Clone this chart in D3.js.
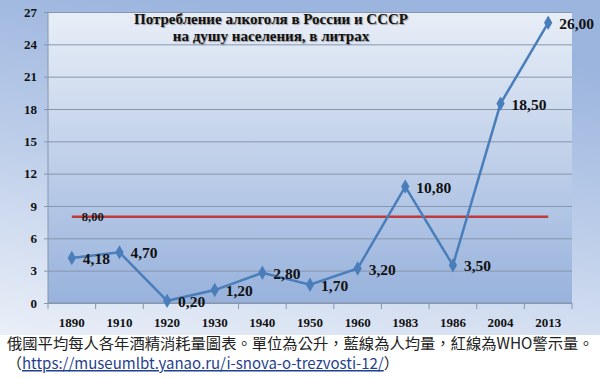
<!DOCTYPE html>
<html>
<head>
<meta charset="utf-8">
<script src="https://cdn.jsdelivr.net/npm/d3@7"></script>
<style>
  body { margin: 0; background: #fff; }
  svg { display: block; }
</style>
</head>
<body>
<svg id="chart" width="600" height="378"></svg>
<script>
// data
var years = ["1890", "1910", "1920", "1930", "1940", "1950", "1960", "1983", "1986", "2004", "2013"];
var litres = [4.18, 4.70, 0.20, 1.20, 2.80, 1.70, 3.20, 10.80, 3.50, 18.50, 26.00];
var whoLimit = 8.00;
var yTicks = [0, 3, 6, 9, 12, 15, 18, 21, 24, 27];
var titleLines = ["Потребление алкоголя в России  и СССР", "на душу населения, в литрах"];

var margin = { top: 12, right: 28, bottom: 75, left: 48 },
    width = 600 - margin.left - margin.right,
    height = 303 - margin.top;

var serif = "Liberation Serif, Times New Roman, serif";
var svg = d3.select("#chart");
var defs = svg.append("defs");

// outer backdrop gradient
var bg = defs.append("linearGradient").attr("id", "bg")
    .attr("x1", "0.3").attr("y1", "0").attr("x2", "0").attr("y2", "1");
bg.append("stop").attr("offset", "0%").attr("stop-color", "#9cb5de");
bg.append("stop").attr("offset", "45%").attr("stop-color", "#bccde9");
bg.append("stop").attr("offset", "100%").attr("stop-color", "#eaeff8");

// plot area gradient
var pg = defs.append("linearGradient").attr("id", "plotbg")
    .attr("x1", "0").attr("y1", "0").attr("x2", "0").attr("y2", "1");
pg.append("stop").attr("offset", "0%").attr("stop-color", "#e8eef7");
pg.append("stop").attr("offset", "100%").attr("stop-color", "#98b2dc");

svg.append("rect").attr("width", 600).attr("height", 335).attr("fill", "url(#bg)");

var g = svg.append("g")
    .attr("transform", "translate(" + margin.left + "," + margin.top + ")");

g.append("rect")
    .attr("width", width).attr("height", height)
    .attr("fill", "url(#plotbg)");

var x = d3.scaleBand().domain(years).range([0, width]);
var y = d3.scaleLinear().domain([0, 27]).range([height, 0]);

// horizontal grid + y labels
var yAxis = g.append("g")
    .call(d3.axisLeft(y).tickValues(yTicks).tickSize(-width - 4).tickPadding(7))
    .attr("transform", "translate(-4,0)");
yAxis.select(".domain").remove();
yAxis.selectAll("line").attr("stroke", "#8696ac").attr("stroke-width", 1);
yAxis.selectAll("text")
    .attr("font-family", serif)
    .attr("font-weight", "bold")
    .attr("font-size", 13)
    .attr("fill", "#111");

// left axis line
g.append("line")
    .attr("x1", 0).attr("x2", 0).attr("y1", 0).attr("y2", height)
    .attr("stroke", "#8696ac");

// x axis: ticks at band boundaries
var xAxis = g.append("g").attr("transform", "translate(0," + height + ")");
xAxis.append("line").attr("x1", 0).attr("x2", width).attr("stroke", "#8696ac");
xAxis.selectAll("line.tk")
    .data(years.concat(["end"]))
    .join("line")
    .attr("class", "tk")
    .attr("x1", (d, i) => i * x.step())
    .attr("x2", (d, i) => i * x.step())
    .attr("y1", 0).attr("y2", 6)
    .attr("stroke", "#8696ac");
xAxis.selectAll("text")
    .data(years)
    .join("text")
    .attr("x", (d) => x(d) + x.bandwidth() / 2)
    .attr("y", 24)
    .attr("text-anchor", "middle")
    .attr("font-family", serif)
    .attr("font-weight", "bold")
    .attr("font-size", 13)
    .attr("fill", "#111")
    .text((d) => d);

// WHO red line
var cx = (d) => x(d) + x.bandwidth() / 2;
g.append("line")
    .attr("x1", cx(years[0]))
    .attr("x2", cx(years[years.length - 1]))
    .attr("y1", y(whoLimit)).attr("y2", y(whoLimit))
    .attr("stroke", "#c0393b").attr("stroke-width", 2.5);
g.append("text")
    .attr("x", cx(years[0]) + 10)
    .attr("y", y(whoLimit) + 4.5)
    .attr("font-family", serif)
    .attr("font-weight", "bold")
    .attr("font-size", 12.5)
    .attr("fill", "#1a1a1a")
    .text(d3.format(".2f")(whoLimit).replace(".", ","));

// blue series
var pts = years.map((d, i) => ({ year: d, v: litres[i] }));
g.append("path")
    .datum(pts)
    .attr("fill", "none")
    .attr("stroke", "#4a7ebb")
    .attr("stroke-width", 2.5)
    .attr("d", d3.line().x((d) => cx(d.year)).y((d) => y(d.v)));

g.selectAll("path.mk")
    .data(pts)
    .join("path")
    .attr("class", "mk")
    .attr("d", d3.symbol(d3.symbolDiamond, 60))
    .attr("transform", (d) => "translate(" + cx(d.year) + "," + y(d.v) + ")")
    .attr("fill", "#4a7ebb");

g.selectAll("text.val")
    .data(pts)
    .join("text")
    .attr("class", "val")
    .attr("x", (d) => cx(d.year) + 11)
    .attr("y", (d) => y(d.v) + 6)
    .attr("font-family", serif)
    .attr("font-weight", "bold")
    .attr("font-size", 15.5)
    .attr("fill", "#111")
    .text((d) => d3.format(".2f")(d.v).replace(".", ","));

// title
svg.append("g").selectAll("text")
    .data(titleLines)
    .join("text")
    .attr("x", 271)
    .attr("y", (d, i) => 24 + i * 17)
    .attr("text-anchor", "middle")
    .attr("font-family", serif)
    .attr("font-weight", "bold")
    .attr("font-size", 15)
    .attr("fill", "#111")
    .style("text-shadow", "1px 1px 1px rgba(0,0,0,0.35)")
    .text((d) => d);

// caption under the image
svg.append("rect").attr("y", 335).attr("width", 600).attr("height", 43).attr("fill", "#fff");
svg.append("text")
    .attr("x", 7).attr("y", 349)
    .attr("font-family", "Noto Sans CJK TC, sans-serif")
    .attr("font-size", 15.3)
    .attr("fill", "#222")
    .text("俄國平均每人各年酒精消耗量圖表。單位為公升，藍線為人均量，紅線為WHO警示量。");
var cap2 = svg.append("text")
    .attr("x", 7).attr("y", 369)
    .attr("font-family", "Noto Sans CJK TC, sans-serif")
    .attr("font-size", 15)
    .attr("fill", "#222");
cap2.append("tspan").text("（");
cap2.append("tspan")
    .attr("fill", "#1f3f8f")
    .attr("text-decoration", "underline")
    .text("https://museumlbt.yanao.ru/i-snova-o-trezvosti-12/");
cap2.append("tspan").text("）");
</script>
</body>
</html>
